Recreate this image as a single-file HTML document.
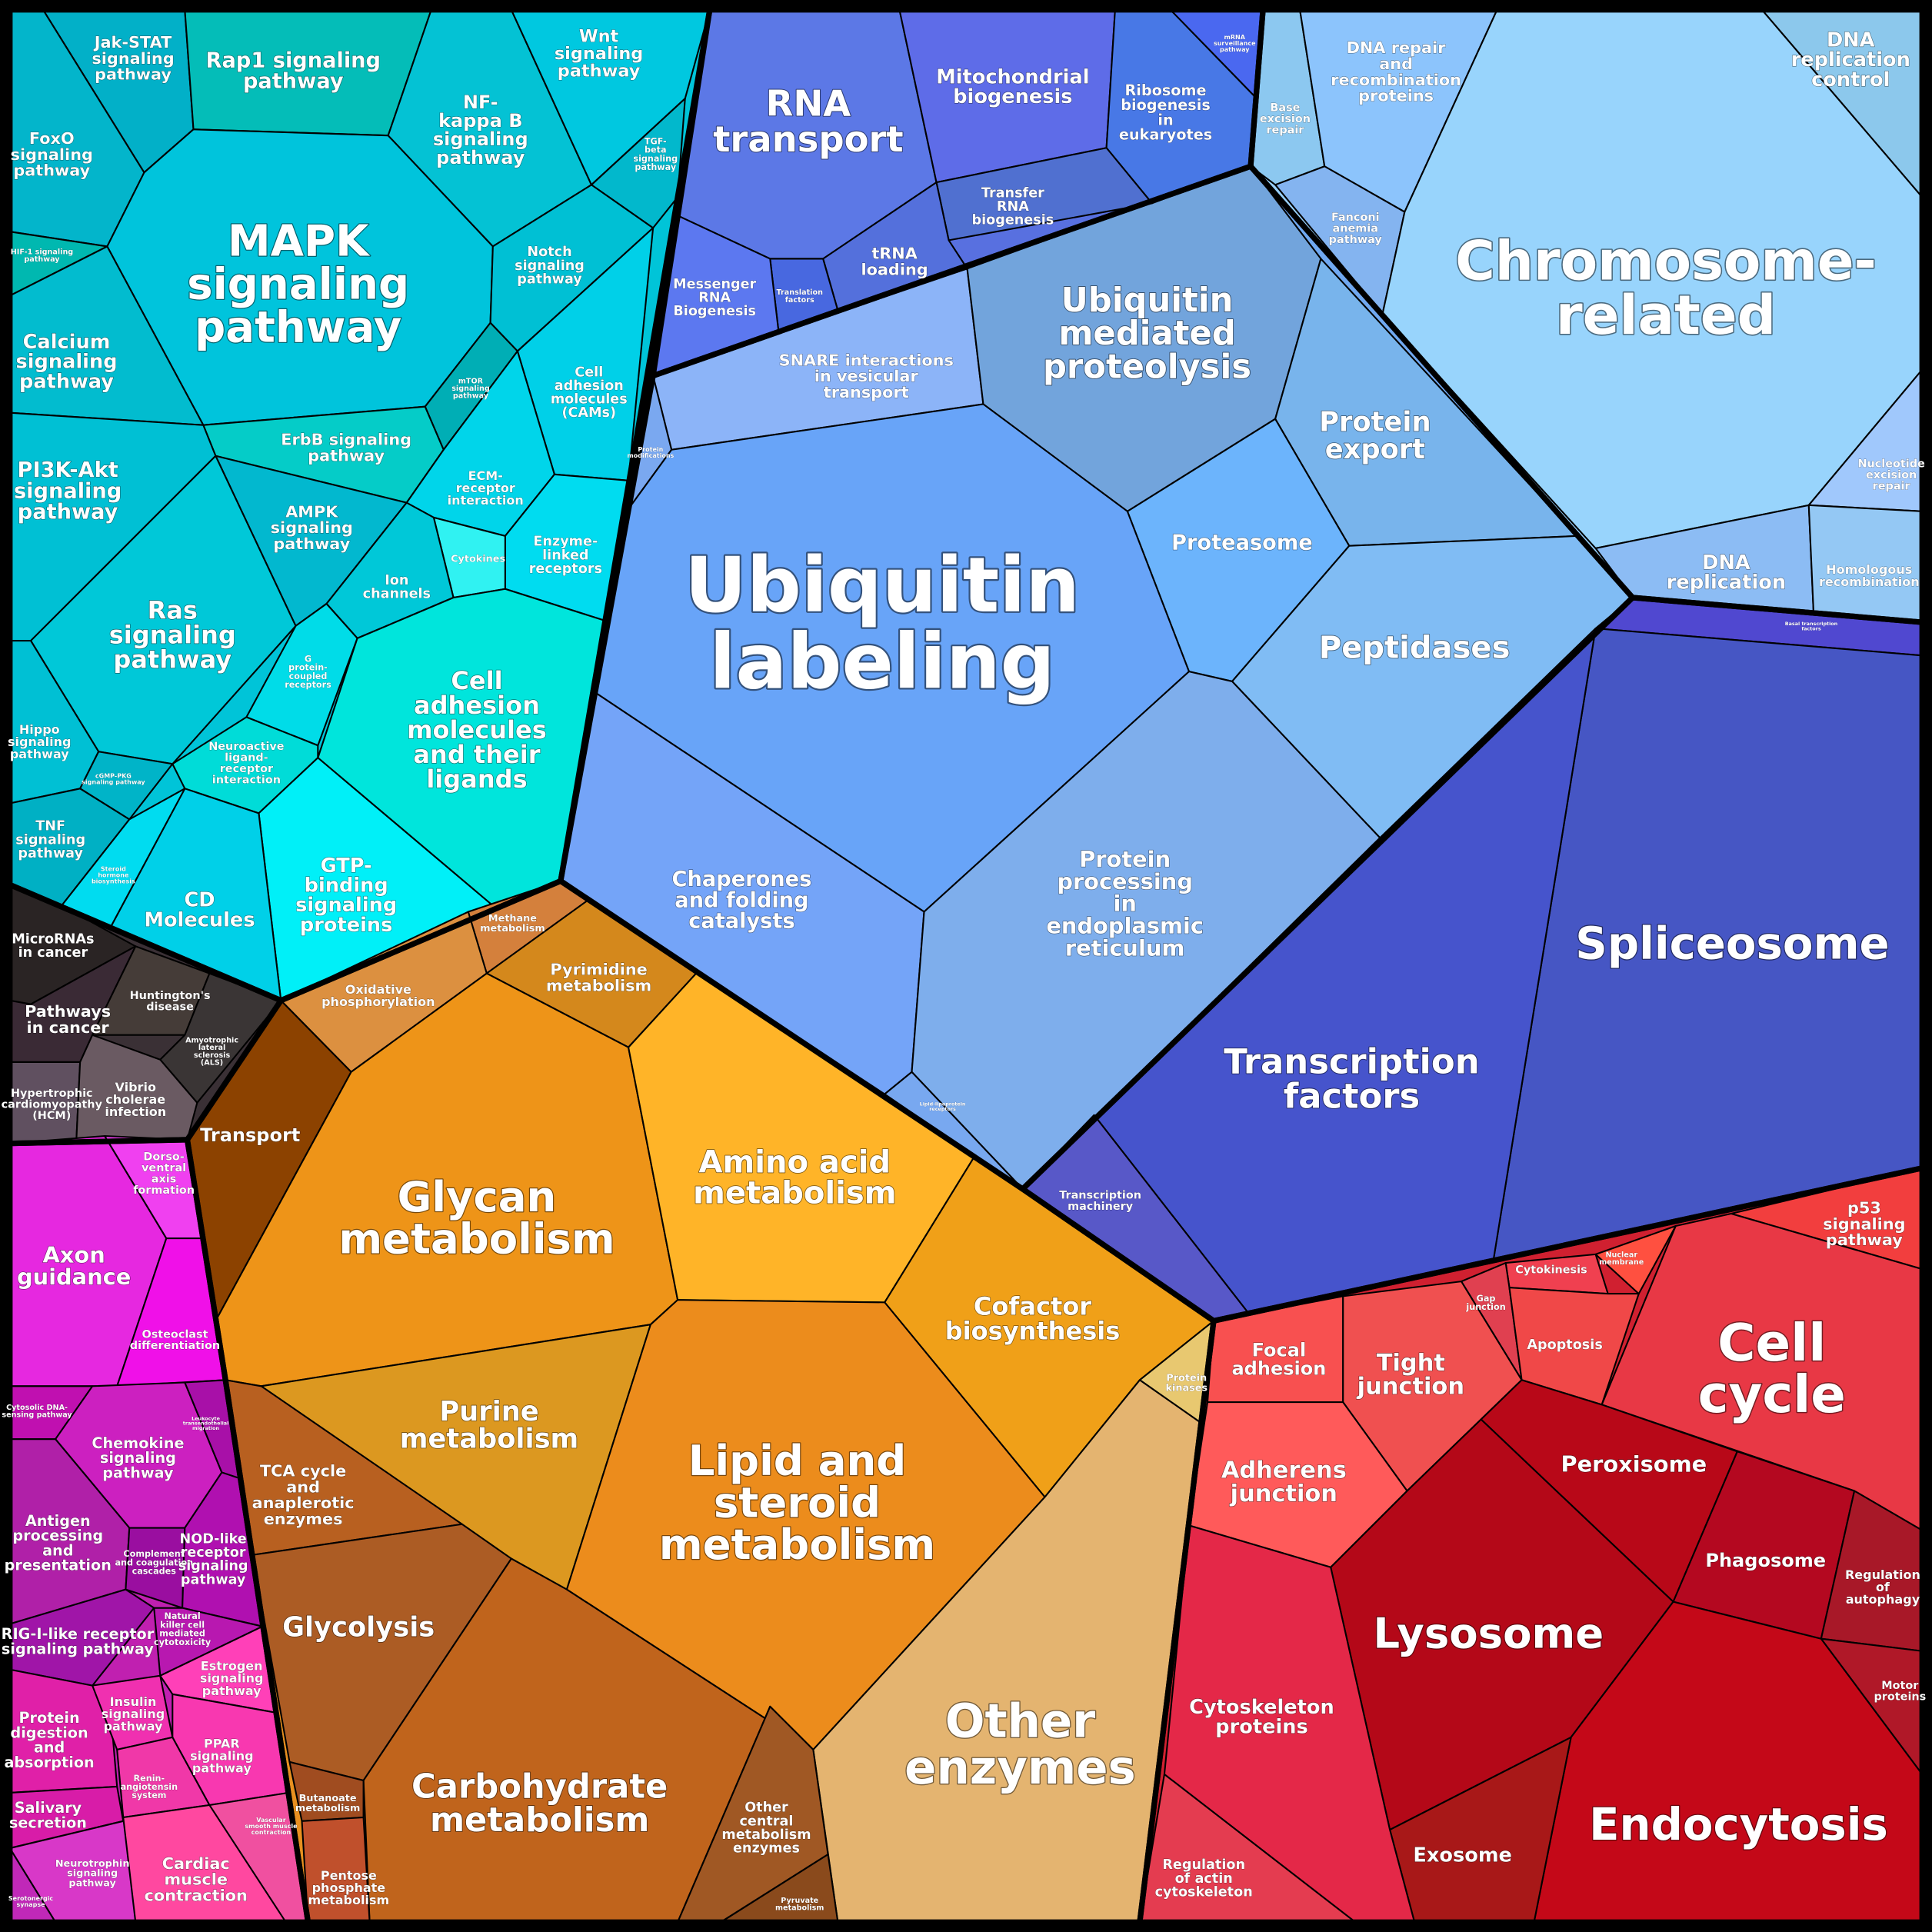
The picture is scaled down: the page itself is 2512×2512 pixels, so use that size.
<!DOCTYPE html>
<html><head><meta charset="utf-8">
<style>
html,body{margin:0;padding:0;background:#000;}
svg{display:block;}
text{font-family:"DejaVu Sans","Liberation Sans",sans-serif;font-weight:bold;fill:#fff;text-anchor:middle;stroke:rgba(0,0,0,0.5);stroke-width:0.045em;paint-order:stroke;stroke-linejoin:round;}
polygon{stroke:#000;stroke-width:1.3;stroke-linejoin:round;}
.g{fill:none;stroke:#000;stroke-width:4.5;}
</style></head><body>
<svg width="2512" height="2512" viewBox="0 0 1568 1568" xmlns="http://www.w3.org/2000/svg">
<rect x="0" y="0" width="1568" height="1568" fill="#000"/>
<!-- base group fills -->
<polygon points="8,8 576,8 455,715 228,812 8,718" fill="#00c4d8"/>
<polygon points="8,718 228,812 152,925 8,928" fill="#3a3035"/>
<polygon points="8,928 152,925 183,1120 250,1560 8,1560" fill="#c020b0"/>
<polygon points="228,812 455,715 830,965 985,1072 925,1560 250,1560 183,1120 152,925" fill="#e89020"/>
<polygon points="530,305 1015,135 1325,485 830,965 455,715" fill="#70a8f0"/>
<polygon points="576,8 1025,8 1015,135 530,305" fill="#5870e0"/>
<polygon points="1025,8 1560,8 1560,505 1325,485 1015,135" fill="#98d0fc"/>
<polygon points="1325,485 1560,505 1560,948 985,1072 830,965" fill="#4656c8"/>
<polygon points="985,1072 1560,948 1560,1560 925,1560" fill="#d02030"/>

<!-- cyan group -->
<polygon points="35,8 150,8 157,105 117,140" fill="#02b0c8"/>
<polygon points="8,8 35,8 117,140 87,200 8,188" fill="#03b5cb"/>
<polygon points="150,8 350,8 315,110 157,105" fill="#04bdb8"/>
<polygon points="350,8 415,8 480,150 400,200 315,110" fill="#04c2d4"/>
<polygon points="415,8 576,8 556,80 480,150" fill="#00c8e0"/>
<polygon points="556,80 480,150 530,185 550,160" fill="#02b8cc"/>
<polygon points="157,105 315,110 400,200 398,262 345,330 165,345 87,200 117,140" fill="#00c4dc"/>
<polygon points="8,188 87,200 8,240" fill="#00b8b0"/>
<polygon points="8,240 87,200 165,345 8,335" fill="#02bccf"/>
<polygon points="400,200 480,150 530,185 420,285 398,262" fill="#00c0d4"/>
<polygon points="398,262 420,285 360,365 345,330" fill="#00aeb5"/>
<polygon points="165,345 345,330 360,365 330,408 175,370" fill="#05ccc8"/>
<polygon points="530,185 510,390 450,385 420,285" fill="#00d0e8"/>
<polygon points="8,335 165,345 175,370 25,520 8,520" fill="#00c0d4"/>
<polygon points="175,370 330,408 265,490 240,508" fill="#02b8cf"/>
<polygon points="330,408 360,365 420,285 450,385 410,435 352,420" fill="#00d5ea"/>
<polygon points="450,385 510,390 495,505 410,478 410,435" fill="#00dcf0"/>
<polygon points="352,420 410,435 410,478 368,485" fill="#30f2f2"/>
<polygon points="265,490 330,408 352,420 368,485 290,518" fill="#00c8d8"/>
<polygon points="25,520 175,370 240,508 140,620 80,610" fill="#00c8d8"/>
<polygon points="8,520 25,520 80,610 65,640 8,652" fill="#00c0d4"/>
<polygon points="80,610 140,620 105,665 65,640" fill="#00b4c8"/>
<polygon points="8,652 65,640 105,665 50,735 8,718" fill="#00b0c4"/>
<polygon points="240,508 265,490 290,518 258,605 200,582" fill="#00dce8"/>
<polygon points="290,518 368,485 410,478 495,505 455,715 400,735 258,615" fill="#00e5dc"/>
<polygon points="200,582 258,605 258,615 210,660 150,640 140,620" fill="#00dcd8"/>
<polygon points="210,660 258,615 400,735 228,812" fill="#00f0f8"/>
<polygon points="150,640 210,660 228,812 90,752" fill="#00d0e8"/>
<polygon points="105,665 150,640 90,752 50,735" fill="#00dcf0"/>

<!-- grey group -->
<polygon points="8,718 50,735 110,768 25,815 8,812" fill="#2a2424"/>
<polygon points="8,812 25,815 110,768 75,840 65,862 8,862" fill="#3a2a35"/>
<polygon points="110,768 170,790 150,840 75,840" fill="#453c38"/>
<polygon points="170,790 228,812 160,895 130,860 150,840" fill="#3a3535"/>
<polygon points="8,862 65,862 62,925 8,928" fill="#605060"/>
<polygon points="65,862 75,840 130,860 160,895 152,925 62,925" fill="#6a5a62"/>

<!-- magenta group -->
<polygon points="8,928 85,922 135,1005 95,1125 8,1125" fill="#e628e0"/>
<polygon points="85,922 152,925 165,1005 135,1005" fill="#f040f0"/>
<polygon points="135,1005 165,1005 183,1120 95,1125" fill="#f010e8"/>
<polygon points="8,1125 75,1125 45,1168 8,1168" fill="#c010b0"/>
<polygon points="75,1125 150,1122 180,1195 150,1240 105,1240 45,1168" fill="#cc20c0"/>
<polygon points="150,1122 183,1120 195,1200 180,1195" fill="#a810a8"/>
<polygon points="8,1168 45,1168 105,1240 102,1290 8,1318" fill="#b020a8"/>
<polygon points="105,1240 150,1240 148,1305 102,1290" fill="#9a0ea0"/>
<polygon points="150,1240 180,1195 195,1200 213,1320 148,1305" fill="#b010b0"/>
<polygon points="8,1318 102,1290 125,1305 75,1368 8,1355" fill="#a015a8"/>
<polygon points="125,1305 148,1305 213,1320 130,1360" fill="#b818b0"/>
<polygon points="8,1355 75,1368 88,1368 95,1450 8,1455" fill="#e020a8"/>
<polygon points="75,1368 130,1360 140,1410 95,1420" fill="#f030b0"/>
<polygon points="130,1360 213,1320 224,1390 140,1375" fill="#ff40b8"/>
<polygon points="140,1375 224,1390 234,1455 170,1465 140,1410" fill="#f838b0"/>
<polygon points="95,1420 140,1410 170,1465 100,1475" fill="#f038a8"/>
<polygon points="8,1455 95,1450 100,1478 8,1500" fill="#d81ca8"/>
<polygon points="8,1500 100,1478 130,1520 110,1560 45,1560" fill="#d838c8"/>
<polygon points="8,1500 45,1560 8,1560" fill="#c028b8"/>
<polygon points="100,1475 170,1465 205,1468 232,1560 110,1560" fill="#ff48a0"/>
<polygon points="170,1465 234,1455 250,1560 232,1560" fill="#f050a0"/>

<!-- orange group -->
<polygon points="380,740 455,715 478,730 395,790" fill="#d4803c"/>
<polygon points="228,812 380,740 395,790 285,870" fill="#dc9040"/>
<polygon points="395,790 478,730 565,790 510,850" fill="#d4881c"/>
<polygon points="152,925 228,812 285,870 175,1072" fill="#8c4200"/>
<polygon points="285,870 395,790 510,850 550,1055 528,1075 212,1125 183,1120 175,1072" fill="#ee9418"/>
<polygon points="510,850 565,790 790,940 718,1057 550,1055" fill="#ffb428"/>
<polygon points="790,940 830,965 985,1072 925,1120 848,1215 718,1057" fill="#f0a018"/>
<polygon points="925,1120 985,1072 975,1155" fill="#e8c870"/>
<polygon points="212,1125 528,1075 460,1290 415,1265" fill="#dc9820"/>
<polygon points="528,1075 550,1055 718,1057 848,1215 660,1420 460,1290" fill="#ec8c1c"/>
<polygon points="660,1420 848,1215 925,1120 975,1155 925,1560 680,1560" fill="#e4b470"/>
<polygon points="183,1120 212,1125 375,1237 205,1262" fill="#b86020"/>
<polygon points="205,1262 375,1237 415,1265 295,1445 235,1430" fill="#ac5c24"/>
<polygon points="415,1265 460,1290 660,1420 625,1385 550,1560 300,1560 295,1445" fill="#c0641c"/>
<polygon points="625,1385 660,1420 672,1505 585,1560 550,1560" fill="#a05824"/>
<polygon points="585,1560 672,1505 680,1560" fill="#8a4a1c"/>
<polygon points="235,1430 295,1445 295,1475 245,1478" fill="#a04c20"/>
<polygon points="245,1478 295,1475 300,1560 250,1560" fill="#c0502c"/>

<!-- ubiquitin group -->
<polygon points="530,305 785,218 798,328 545,365" fill="#8cb4f8"/>
<polygon points="530,305 545,365 505,420 520,360" fill="#7aa8f0"/>
<polygon points="785,218 1015,135 1072,210 1035,340 915,415 798,328" fill="#72a4dc"/>
<polygon points="1072,210 1280,435 1095,443 1035,340" fill="#78b4ec"/>
<polygon points="915,415 1035,340 1095,443 1000,553 965,545" fill="#6cb4fc"/>
<polygon points="1095,443 1280,435 1325,485 1120,680 1000,553" fill="#80bcf4"/>
<polygon points="545,365 798,328 915,415 965,545 750,740 480,560 505,420" fill="#68a4f8"/>
<polygon points="480,560 750,740 740,870 718,888 455,715" fill="#74a4f8"/>
<polygon points="750,740 965,545 1000,553 1120,680 830,965 740,870" fill="#7eaeec"/>
<polygon points="718,888 740,870 830,965" fill="#78a8f0"/>

<!-- RNA group -->
<polygon points="576,8 730,8 760,148 668,210 625,210 550,175" fill="#5c78e6"/>
<polygon points="730,8 905,8 898,120 760,148" fill="#5e6ce8"/>
<polygon points="905,8 950,8 1020,80 1015,135 935,165 898,120" fill="#4878e6"/>
<polygon points="950,8 1025,8 1020,80" fill="#4a68f0"/>
<polygon points="760,148 898,120 935,165 770,195" fill="#5070d0"/>
<polygon points="668,210 760,148 770,195 785,218 680,252" fill="#5470dc"/>
<polygon points="625,210 668,210 680,252 632,270" fill="#4868e0"/>
<polygon points="550,175 625,210 632,270 530,305" fill="#5c78f0"/>

<!-- chromosome group -->
<polygon points="1025,8 1055,8 1075,135 1035,150 1015,135" fill="#8cc8f0"/>
<polygon points="1055,8 1215,8 1140,172 1075,135" fill="#8cc4fc"/>
<polygon points="1035,150 1075,135 1140,172 1122,255" fill="#84b4f0"/>
<polygon points="1430,8 1560,8 1560,160" fill="#8cc8ec"/>
<polygon points="1215,8 1430,8 1560,160 1560,300 1468,410 1295,445 1122,255 1140,172" fill="#98d4fc"/>
<polygon points="1560,300 1560,415 1468,410" fill="#a0c8fc"/>
<polygon points="1295,445 1468,410 1472,500 1325,485" fill="#8cbcf4"/>
<polygon points="1468,410 1560,415 1560,505 1472,500" fill="#94c8f4"/>

<!-- dark blue group -->
<polygon points="1325,485 1560,505 1560,532 1295,510" fill="#5048d0"/>
<polygon points="1295,510 1560,532 1560,948 1212,1023" fill="#4656c4"/>
<polygon points="830,965 1120,680 1295,510 1212,1023 1015,1068 888,905" fill="#4654cc"/>
<polygon points="830,965 888,905 1015,1068 985,1072" fill="#5858c8"/>

<!-- red group -->
<polygon points="1405,985 1560,948 1560,1030" fill="#f23e3e"/>
<polygon points="1300,1140 1360,995 1405,985 1560,1030 1560,1242 1505,1210" fill="#e83845"/>
<polygon points="1295,1018 1360,995 1330,1050" fill="#ff5040"/>
<polygon points="1222,1025 1295,1018 1305,1050 1225,1045" fill="#f04050"/>
<polygon points="1186,1040 1222,1025 1225,1045 1235,1120" fill="#e04050"/>
<polygon points="1225,1045 1305,1050 1330,1050 1300,1140 1235,1120" fill="#f04848"/>
<polygon points="985,1072 1090,1052 1090,1138 980,1138" fill="#f85050"/>
<polygon points="1090,1052 1186,1040 1235,1120 1142,1210 1090,1138" fill="#f05050"/>
<polygon points="980,1138 1090,1138 1142,1210 1080,1272 965,1238" fill="#ff5a5a"/>
<polygon points="1202,1152 1235,1120 1300,1140 1410,1178 1358,1300" fill="#b80818"/>
<polygon points="1410,1178 1505,1210 1478,1330 1358,1300" fill="#b40820"/>
<polygon points="1505,1210 1560,1242 1560,1340 1478,1330" fill="#a81828"/>
<polygon points="1478,1330 1560,1340 1560,1440" fill="#b01828"/>
<polygon points="1080,1272 1142,1210 1202,1152 1358,1300 1275,1410 1128,1485" fill="#b40818"/>
<polygon points="1275,1410 1358,1300 1478,1330 1560,1440 1560,1560 1245,1560" fill="#c40818"/>
<polygon points="1128,1485 1275,1410 1245,1560 1148,1560" fill="#a81818"/>
<polygon points="965,1238 1080,1272 1128,1485 1148,1560 1100,1560 945,1440" fill="#e42848"/>
<polygon points="945,1440 1100,1560 925,1560" fill="#e43c50"/>

<!-- group borders -->
<polygon class="g" points="8,8 576,8 455,715 228,812 8,718"/>
<polygon class="g" points="8,718 228,812 152,925 8,928"/>
<polygon class="g" points="8,928 152,925 183,1120 250,1560 8,1560"/>
<polygon class="g" points="228,812 455,715 830,965 985,1072 925,1560 250,1560 183,1120 152,925"/>
<polygon class="g" points="530,305 1015,135 1325,485 830,965 455,715"/>
<polygon class="g" points="576,8 1025,8 1015,135 530,305"/>
<polygon class="g" points="1025,8 1560,8 1560,505 1325,485 1015,135"/>
<polygon class="g" points="1325,485 1560,505 1560,948 985,1072 830,965"/>
<polygon class="g" points="985,1072 1560,948 1560,1560 925,1560"/>
<rect x="4" y="4" width="1560" height="1560" fill="none" stroke="#000" stroke-width="8"/>

<!-- labels -->
<text x="108" y="47" font-size="13"><tspan x="108" dy="-0.64em">Jak-STAT</tspan><tspan x="108" dy="1em">signaling</tspan><tspan x="108" dy="1em">pathway</tspan></text>
<text x="238" y="57" font-size="17"><tspan x="238" dy="-0.14em">Rap1 signaling</tspan><tspan x="238" dy="1em">pathway</tspan></text>
<text x="390" y="105" font-size="15"><tspan x="390" dy="-1.14em">NF-</tspan><tspan x="390" dy="1em">kappa B</tspan><tspan x="390" dy="1em">signaling</tspan><tspan x="390" dy="1em">pathway</tspan></text>
<text x="486" y="43" font-size="14"><tspan x="486" dy="-0.64em">Wnt</tspan><tspan x="486" dy="1em">signaling</tspan><tspan x="486" dy="1em">pathway</tspan></text>
<text x="532" y="125" font-size="7"><tspan x="532" dy="-1.14em">TGF-</tspan><tspan x="532" dy="1em">beta</tspan><tspan x="532" dy="1em">signaling</tspan><tspan x="532" dy="1em">pathway</tspan></text>
<text x="42" y="125" font-size="13"><tspan x="42" dy="-0.64em">FoxO</tspan><tspan x="42" dy="1em">signaling</tspan><tspan x="42" dy="1em">pathway</tspan></text>
<text x="242" y="230" font-size="35"><tspan x="242" dy="-0.64em">MAPK</tspan><tspan x="242" dy="1em">signaling</tspan><tspan x="242" dy="1em">pathway</tspan></text>
<text x="34" y="207" font-size="6"><tspan x="34" dy="-0.14em">HIF-1 signaling</tspan><tspan x="34" dy="1em">pathway</tspan></text>
<text x="54" y="293" font-size="16"><tspan x="54" dy="-0.64em">Calcium</tspan><tspan x="54" dy="1em">signaling</tspan><tspan x="54" dy="1em">pathway</tspan></text>
<text x="446" y="215" font-size="11"><tspan x="446" dy="-0.64em">Notch</tspan><tspan x="446" dy="1em">signaling</tspan><tspan x="446" dy="1em">pathway</tspan></text>
<text x="382" y="315" font-size="6"><tspan x="382" dy="-0.64em">mTOR</tspan><tspan x="382" dy="1em">signaling</tspan><tspan x="382" dy="1em">pathway</tspan></text>
<text x="281" y="363" font-size="13"><tspan x="281" dy="-0.14em">ErbB signaling</tspan><tspan x="281" dy="1em">pathway</tspan></text>
<text x="478" y="318" font-size="11"><tspan x="478" dy="-1.14em">Cell</tspan><tspan x="478" dy="1em">adhesion</tspan><tspan x="478" dy="1em">molecules</tspan><tspan x="478" dy="1em">(CAMs)</tspan></text>
<text x="55" y="398" font-size="17"><tspan x="55" dy="-0.64em">PI3K-Akt</tspan><tspan x="55" dy="1em">signaling</tspan><tspan x="55" dy="1em">pathway</tspan></text>
<text x="253" y="428" font-size="13"><tspan x="253" dy="-0.64em">AMPK</tspan><tspan x="253" dy="1em">signaling</tspan><tspan x="253" dy="1em">pathway</tspan></text>
<text x="394" y="396" font-size="10"><tspan x="394" dy="-0.64em">ECM-</tspan><tspan x="394" dy="1em">receptor</tspan><tspan x="394" dy="1em">interaction</tspan></text>
<text x="459" y="450" font-size="11"><tspan x="459" dy="-0.64em">Enzyme-</tspan><tspan x="459" dy="1em">linked</tspan><tspan x="459" dy="1em">receptors</tspan></text>
<text x="388" y="453" font-size="8"><tspan x="388" dy="0.36em">Cytokines</tspan></text>
<text x="322" y="476" font-size="11"><tspan x="322" dy="-0.14em">Ion</tspan><tspan x="322" dy="1em">channels</tspan></text>
<text x="140" y="515" font-size="20"><tspan x="140" dy="-0.64em">Ras</tspan><tspan x="140" dy="1em">signaling</tspan><tspan x="140" dy="1em">pathway</tspan></text>
<text x="32" y="602" font-size="10"><tspan x="32" dy="-0.64em">Hippo</tspan><tspan x="32" dy="1em">signaling</tspan><tspan x="32" dy="1em">pathway</tspan></text>
<text x="92" y="632" font-size="5"><tspan x="92" dy="-0.14em">cGMP-PKG</tspan><tspan x="92" dy="1em">signaling pathway</tspan></text>
<text x="41" y="681" font-size="11"><tspan x="41" dy="-0.64em">TNF</tspan><tspan x="41" dy="1em">signaling</tspan><tspan x="41" dy="1em">pathway</tspan></text>
<text x="250" y="545" font-size="7"><tspan x="250" dy="-1.14em">G</tspan><tspan x="250" dy="1em">protein-</tspan><tspan x="250" dy="1em">coupled</tspan><tspan x="250" dy="1em">receptors</tspan></text>
<text x="387" y="592" font-size="20"><tspan x="387" dy="-1.64em">Cell</tspan><tspan x="387" dy="1em">adhesion</tspan><tspan x="387" dy="1em">molecules</tspan><tspan x="387" dy="1em">and their</tspan><tspan x="387" dy="1em">ligands</tspan></text>
<text x="200" y="619" font-size="9"><tspan x="200" dy="-1.14em">Neuroactive</tspan><tspan x="200" dy="1em">ligand-</tspan><tspan x="200" dy="1em">receptor</tspan><tspan x="200" dy="1em">interaction</tspan></text>
<text x="281" y="726" font-size="16"><tspan x="281" dy="-1.14em">GTP-</tspan><tspan x="281" dy="1em">binding</tspan><tspan x="281" dy="1em">signaling</tspan><tspan x="281" dy="1em">proteins</tspan></text>
<text x="162" y="738" font-size="16"><tspan x="162" dy="-0.14em">CD</tspan><tspan x="162" dy="1em">Molecules</tspan></text>
<text x="92" y="710" font-size="5"><tspan x="92" dy="-0.64em">Steroid</tspan><tspan x="92" dy="1em">hormone</tspan><tspan x="92" dy="1em">biosynthesis</tspan></text>
<text x="43" y="767" font-size="11"><tspan x="43" dy="-0.14em">MicroRNAs</tspan><tspan x="43" dy="1em">in cancer</tspan></text>
<text x="55" y="827" font-size="13"><tspan x="55" dy="-0.14em">Pathways</tspan><tspan x="55" dy="1em">in cancer</tspan></text>
<text x="138" y="812" font-size="9"><tspan x="138" dy="-0.14em">Huntington's</tspan><tspan x="138" dy="1em">disease</tspan></text>
<text x="172" y="853" font-size="6"><tspan x="172" dy="-1.14em">Amyotrophic</tspan><tspan x="172" dy="1em">lateral</tspan><tspan x="172" dy="1em">sclerosis</tspan><tspan x="172" dy="1em">(ALS)</tspan></text>
<text x="42" y="896" font-size="9"><tspan x="42" dy="-0.64em">Hypertrophic</tspan><tspan x="42" dy="1em">cardiomyopathy</tspan><tspan x="42" dy="1em">(HCM)</tspan></text>
<text x="110" y="892" font-size="10"><tspan x="110" dy="-0.64em">Vibrio</tspan><tspan x="110" dy="1em">cholerae</tspan><tspan x="110" dy="1em">infection</tspan></text>
<text x="60" y="1027" font-size="18"><tspan x="60" dy="-0.14em">Axon</tspan><tspan x="60" dy="1em">guidance</tspan></text>
<text x="133" y="952" font-size="9"><tspan x="133" dy="-1.14em">Dorso-</tspan><tspan x="133" dy="1em">ventral</tspan><tspan x="133" dy="1em">axis</tspan><tspan x="133" dy="1em">formation</tspan></text>
<text x="142" y="1087" font-size="9"><tspan x="142" dy="-0.14em">Osteoclast</tspan><tspan x="142" dy="1em">differentiation</tspan></text>
<text x="30" y="1145" font-size="6"><tspan x="30" dy="-0.14em">Cytosolic DNA-</tspan><tspan x="30" dy="1em">sensing pathway</tspan></text>
<text x="167" y="1155" font-size="4"><tspan x="167" dy="-0.64em">Leukocyte</tspan><tspan x="167" dy="1em">transendothelial</tspan><tspan x="167" dy="1em">migration</tspan></text>
<text x="112" y="1183" font-size="12"><tspan x="112" dy="-0.64em">Chemokine</tspan><tspan x="112" dy="1em">signaling</tspan><tspan x="112" dy="1em">pathway</tspan></text>
<text x="47" y="1252" font-size="12"><tspan x="47" dy="-1.14em">Antigen</tspan><tspan x="47" dy="1em">processing</tspan><tspan x="47" dy="1em">and</tspan><tspan x="47" dy="1em">presentation</tspan></text>
<text x="125" y="1268" font-size="7"><tspan x="125" dy="-0.64em">Complement</tspan><tspan x="125" dy="1em">and coagulation</tspan><tspan x="125" dy="1em">cascades</tspan></text>
<text x="173" y="1265" font-size="11"><tspan x="173" dy="-1.14em">NOD-like</tspan><tspan x="173" dy="1em">receptor</tspan><tspan x="173" dy="1em">signaling</tspan><tspan x="173" dy="1em">pathway</tspan></text>
<text x="148" y="1322" font-size="7"><tspan x="148" dy="-1.14em">Natural</tspan><tspan x="148" dy="1em">killer cell</tspan><tspan x="148" dy="1em">mediated</tspan><tspan x="148" dy="1em">cytotoxicity</tspan></text>
<text x="63" y="1332" font-size="12"><tspan x="63" dy="-0.14em">RIG-I-like receptor</tspan><tspan x="63" dy="1em">signaling pathway</tspan></text>
<text x="40" y="1412" font-size="12"><tspan x="40" dy="-1.14em">Protein</tspan><tspan x="40" dy="1em">digestion</tspan><tspan x="40" dy="1em">and</tspan><tspan x="40" dy="1em">absorption</tspan></text>
<text x="108" y="1391" font-size="10"><tspan x="108" dy="-0.64em">Insulin</tspan><tspan x="108" dy="1em">signaling</tspan><tspan x="108" dy="1em">pathway</tspan></text>
<text x="188" y="1362" font-size="10"><tspan x="188" dy="-0.64em">Estrogen</tspan><tspan x="188" dy="1em">signaling</tspan><tspan x="188" dy="1em">pathway</tspan></text>
<text x="180" y="1425" font-size="10"><tspan x="180" dy="-0.64em">PPAR</tspan><tspan x="180" dy="1em">signaling</tspan><tspan x="180" dy="1em">pathway</tspan></text>
<text x="121" y="1450" font-size="7"><tspan x="121" dy="-0.64em">Renin-</tspan><tspan x="121" dy="1em">angiotensin</tspan><tspan x="121" dy="1em">system</tspan></text>
<text x="39" y="1473" font-size="12"><tspan x="39" dy="-0.14em">Salivary</tspan><tspan x="39" dy="1em">secretion</tspan></text>
<text x="75" y="1520" font-size="8"><tspan x="75" dy="-0.64em">Neurotrophin</tspan><tspan x="75" dy="1em">signaling</tspan><tspan x="75" dy="1em">pathway</tspan></text>
<text x="25" y="1543" font-size="5"><tspan x="25" dy="-0.14em">Serotonergic</tspan><tspan x="25" dy="1em">synapse</tspan></text>
<text x="159" y="1525" font-size="13"><tspan x="159" dy="-0.64em">Cardiac</tspan><tspan x="159" dy="1em">muscle</tspan><tspan x="159" dy="1em">contraction</tspan></text>
<text x="220" y="1482" font-size="5"><tspan x="220" dy="-0.64em">Vascular</tspan><tspan x="220" dy="1em">smooth muscle</tspan><tspan x="220" dy="1em">contraction</tspan></text>
<text x="416" y="749" font-size="8"><tspan x="416" dy="-0.14em">Methane</tspan><tspan x="416" dy="1em">metabolism</tspan></text>
<text x="307" y="808" font-size="10"><tspan x="307" dy="-0.14em">Oxidative</tspan><tspan x="307" dy="1em">phosphorylation</tspan></text>
<text x="486" y="793" font-size="13"><tspan x="486" dy="-0.14em">Pyrimidine</tspan><tspan x="486" dy="1em">metabolism</tspan></text>
<text x="203" y="921" font-size="15"><tspan x="203" dy="0.36em">Transport</tspan></text>
<text x="387" y="988" font-size="34"><tspan x="387" dy="-0.14em">Glycan</tspan><tspan x="387" dy="1em">metabolism</tspan></text>
<text x="645" y="955" font-size="25"><tspan x="645" dy="-0.14em">Amino acid</tspan><tspan x="645" dy="1em">metabolism</tspan></text>
<text x="838" y="1070" font-size="20"><tspan x="838" dy="-0.14em">Cofactor</tspan><tspan x="838" dy="1em">biosynthesis</tspan></text>
<text x="963" y="1122" font-size="8"><tspan x="963" dy="-0.14em">Protein</tspan><tspan x="963" dy="1em">kinases</tspan></text>
<text x="397" y="1156" font-size="22"><tspan x="397" dy="-0.14em">Purine</tspan><tspan x="397" dy="1em">metabolism</tspan></text>
<text x="647" y="1219" font-size="34"><tspan x="647" dy="-0.64em">Lipid and</tspan><tspan x="647" dy="1em">steroid</tspan><tspan x="647" dy="1em">metabolism</tspan></text>
<text x="246" y="1213" font-size="13"><tspan x="246" dy="-1.14em">TCA cycle</tspan><tspan x="246" dy="1em">and</tspan><tspan x="246" dy="1em">anaplerotic</tspan><tspan x="246" dy="1em">enzymes</tspan></text>
<text x="291" y="1320" font-size="22"><tspan x="291" dy="0.36em">Glycolysis</tspan></text>
<text x="438" y="1463" font-size="27"><tspan x="438" dy="-0.14em">Carbohydrate</tspan><tspan x="438" dy="1em">metabolism</tspan></text>
<text x="622" y="1483" font-size="11"><tspan x="622" dy="-1.14em">Other</tspan><tspan x="622" dy="1em">central</tspan><tspan x="622" dy="1em">metabolism</tspan><tspan x="622" dy="1em">enzymes</tspan></text>
<text x="649" y="1545" font-size="6"><tspan x="649" dy="-0.14em">Pyruvate</tspan><tspan x="649" dy="1em">metabolism</tspan></text>
<text x="266" y="1463" font-size="8"><tspan x="266" dy="-0.14em">Butanoate</tspan><tspan x="266" dy="1em">metabolism</tspan></text>
<text x="283" y="1532" font-size="10"><tspan x="283" dy="-0.64em">Pentose</tspan><tspan x="283" dy="1em">phosphate</tspan><tspan x="283" dy="1em">metabolism</tspan></text>
<text x="828" y="1415" font-size="38"><tspan x="828" dy="-0.14em">Other</tspan><tspan x="828" dy="1em">enzymes</tspan></text>
<text x="656" y="98" font-size="29"><tspan x="656" dy="-0.14em">RNA</tspan><tspan x="656" dy="1em">transport</tspan></text>
<text x="822" y="70" font-size="16"><tspan x="822" dy="-0.14em">Mitochondrial</tspan><tspan x="822" dy="1em">biogenesis</tspan></text>
<text x="946" y="91" font-size="12"><tspan x="946" dy="-1.14em">Ribosome</tspan><tspan x="946" dy="1em">biogenesis</tspan><tspan x="946" dy="1em">in</tspan><tspan x="946" dy="1em">eukaryotes</tspan></text>
<text x="1002" y="35" font-size="5"><tspan x="1002" dy="-0.64em">mRNA</tspan><tspan x="1002" dy="1em">surveillance</tspan><tspan x="1002" dy="1em">pathway</tspan></text>
<text x="822" y="167" font-size="11"><tspan x="822" dy="-0.64em">Transfer</tspan><tspan x="822" dy="1em">RNA</tspan><tspan x="822" dy="1em">biogenesis</tspan></text>
<text x="726" y="212" font-size="13"><tspan x="726" dy="-0.14em">tRNA</tspan><tspan x="726" dy="1em">loading</tspan></text>
<text x="649" y="240" font-size="6"><tspan x="649" dy="-0.14em">Translation</tspan><tspan x="649" dy="1em">factors</tspan></text>
<text x="580" y="241" font-size="11"><tspan x="580" dy="-0.64em">Messenger</tspan><tspan x="580" dy="1em">RNA</tspan><tspan x="580" dy="1em">Biogenesis</tspan></text>
<text x="703" y="305" font-size="13"><tspan x="703" dy="-0.64em">SNARE interactions</tspan><tspan x="703" dy="1em">in vesicular</tspan><tspan x="703" dy="1em">transport</tspan></text>
<text x="528" y="367" font-size="5"><tspan x="528" dy="-0.14em">Protein</tspan><tspan x="528" dy="1em">modifications</tspan></text>
<text x="931" y="270" font-size="27"><tspan x="931" dy="-0.64em">Ubiquitin</tspan><tspan x="931" dy="1em">mediated</tspan><tspan x="931" dy="1em">proteolysis</tspan></text>
<text x="1116" y="353" font-size="22"><tspan x="1116" dy="-0.14em">Protein</tspan><tspan x="1116" dy="1em">export</tspan></text>
<text x="1008" y="440" font-size="17"><tspan x="1008" dy="0.36em">Proteasome</tspan></text>
<text x="1148" y="525" font-size="25"><tspan x="1148" dy="0.36em">Peptidases</tspan></text>
<text x="716" y="505" font-size="62"><tspan x="716" dy="-0.14em">Ubiquitin</tspan><tspan x="716" dy="1em">labeling</tspan></text>
<text x="602" y="730" font-size="17"><tspan x="602" dy="-0.64em">Chaperones</tspan><tspan x="602" dy="1em">and folding</tspan><tspan x="602" dy="1em">catalysts</tspan></text>
<text x="913" y="733" font-size="18"><tspan x="913" dy="-1.64em">Protein</tspan><tspan x="913" dy="1em">processing</tspan><tspan x="913" dy="1em">in</tspan><tspan x="913" dy="1em">endoplasmic</tspan><tspan x="913" dy="1em">reticulum</tspan></text>
<text x="765" y="898" font-size="4"><tspan x="765" dy="-0.14em">Lipid-lipoprotein</tspan><tspan x="765" dy="1em">receptors</tspan></text>
<text x="1043" y="96" font-size="9"><tspan x="1043" dy="-0.64em">Base</tspan><tspan x="1043" dy="1em">excision</tspan><tspan x="1043" dy="1em">repair</tspan></text>
<text x="1133" y="58" font-size="13"><tspan x="1133" dy="-1.14em">DNA repair</tspan><tspan x="1133" dy="1em">and</tspan><tspan x="1133" dy="1em">recombination</tspan><tspan x="1133" dy="1em">proteins</tspan></text>
<text x="1100" y="185" font-size="9"><tspan x="1100" dy="-0.64em">Fanconi</tspan><tspan x="1100" dy="1em">anemia</tspan><tspan x="1100" dy="1em">pathway</tspan></text>
<text x="1502" y="48" font-size="16"><tspan x="1502" dy="-0.64em">DNA</tspan><tspan x="1502" dy="1em">replication</tspan><tspan x="1502" dy="1em">control</tspan></text>
<text x="1352" y="233" font-size="44"><tspan x="1352" dy="-0.14em">Chromosome-</tspan><tspan x="1352" dy="1em">related</tspan></text>
<text x="1535" y="385" font-size="9"><tspan x="1535" dy="-0.64em">Nucleotide</tspan><tspan x="1535" dy="1em">excision</tspan><tspan x="1535" dy="1em">repair</tspan></text>
<text x="1401" y="464" font-size="16"><tspan x="1401" dy="-0.14em">DNA</tspan><tspan x="1401" dy="1em">replication</tspan></text>
<text x="1517" y="467" font-size="10"><tspan x="1517" dy="-0.14em">Homologous</tspan><tspan x="1517" dy="1em">recombination</tspan></text>
<text x="1470" y="508" font-size="4"><tspan x="1470" dy="-0.14em">Basal transcription</tspan><tspan x="1470" dy="1em">factors</tspan></text>
<text x="1406" y="765" font-size="36"><tspan x="1406" dy="0.36em">Spliceosome</tspan></text>
<text x="1097" y="875" font-size="28"><tspan x="1097" dy="-0.14em">Transcription</tspan><tspan x="1097" dy="1em">factors</tspan></text>
<text x="893" y="974" font-size="9"><tspan x="893" dy="-0.14em">Transcription</tspan><tspan x="893" dy="1em">machinery</tspan></text>
<text x="1513" y="993" font-size="13"><tspan x="1513" dy="-0.64em">p53</tspan><tspan x="1513" dy="1em">signaling</tspan><tspan x="1513" dy="1em">pathway</tspan></text>
<text x="1438" y="1110" font-size="42"><tspan x="1438" dy="-0.14em">Cell</tspan><tspan x="1438" dy="1em">cycle</tspan></text>
<text x="1316" y="1021" font-size="6"><tspan x="1316" dy="-0.14em">Nuclear</tspan><tspan x="1316" dy="1em">membrane</tspan></text>
<text x="1259" y="1030" font-size="9"><tspan x="1259" dy="0.36em">Cytokinesis</tspan></text>
<text x="1206" y="1057" font-size="7"><tspan x="1206" dy="-0.14em">Gap</tspan><tspan x="1206" dy="1em">junction</tspan></text>
<text x="1270" y="1091" font-size="11"><tspan x="1270" dy="0.36em">Apoptosis</tspan></text>
<text x="1038" y="1103" font-size="15"><tspan x="1038" dy="-0.14em">Focal</tspan><tspan x="1038" dy="1em">adhesion</tspan></text>
<text x="1145" y="1115" font-size="19"><tspan x="1145" dy="-0.14em">Tight</tspan><tspan x="1145" dy="1em">junction</tspan></text>
<text x="1042" y="1202" font-size="19"><tspan x="1042" dy="-0.14em">Adherens</tspan><tspan x="1042" dy="1em">junction</tspan></text>
<text x="1326" y="1188" font-size="18"><tspan x="1326" dy="0.36em">Peroxisome</tspan></text>
<text x="1433" y="1266" font-size="15"><tspan x="1433" dy="0.36em">Phagosome</tspan></text>
<text x="1528" y="1288" font-size="10"><tspan x="1528" dy="-0.64em">Regulation</tspan><tspan x="1528" dy="1em">of</tspan><tspan x="1528" dy="1em">autophagy</tspan></text>
<text x="1542" y="1372" font-size="9"><tspan x="1542" dy="-0.14em">Motor</tspan><tspan x="1542" dy="1em">proteins</tspan></text>
<text x="1208" y="1325" font-size="34"><tspan x="1208" dy="0.36em">Lysosome</tspan></text>
<text x="1411" y="1480" font-size="36"><tspan x="1411" dy="0.36em">Endocytosis</tspan></text>
<text x="1187" y="1505" font-size="16"><tspan x="1187" dy="0.36em">Exosome</tspan></text>
<text x="1024" y="1393" font-size="16"><tspan x="1024" dy="-0.14em">Cytoskeleton</tspan><tspan x="1024" dy="1em">proteins</tspan></text>
<text x="977" y="1524" font-size="11"><tspan x="977" dy="-0.64em">Regulation</tspan><tspan x="977" dy="1em">of actin</tspan><tspan x="977" dy="1em">cytoskeleton</tspan></text>
</svg>
</body></html>
